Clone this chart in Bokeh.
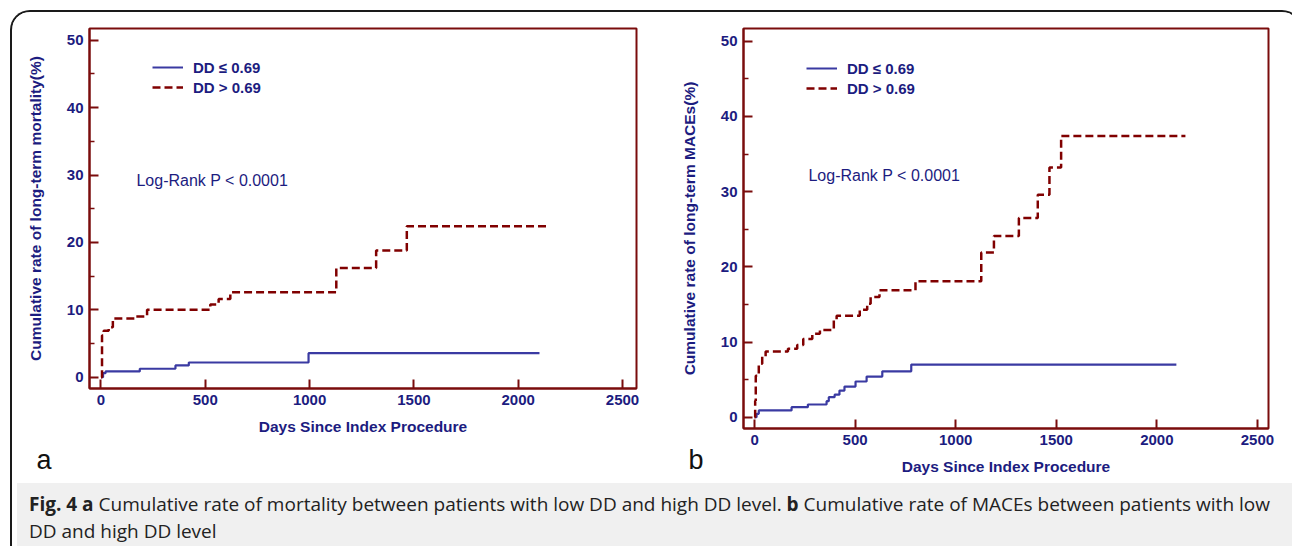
from bokeh.plotting import figure
from bokeh.layouts import column, row
from bokeh.models import Div, Label, Legend, LegendItem, FixedTicker, Range1d
from bokeh.embed import file_html
from bokeh.resources import INLINE

# ---------------- data ----------------
# Panel a: cumulative rate of long-term mortality (%)
days_low_a = [0, 10, 22, 186, 357, 421, 995, 2102]
rate_low_a = [0, 0.6, 0.85, 1.25, 1.74, 2.18, 3.56, 3.56]
days_high_a = [0, 5, 13, 37, 57, 165, 221, 524, 564, 620, 1128, 1319, 1466, 2145]
rate_high_a = [0, 6.2, 6.9, 7.4, 8.7, 9.0, 10.0, 10.8, 11.6, 12.6, 16.2, 18.8, 22.4, 22.4]

# Panel b: cumulative rate of long-term MACEs (%)
days_low_b = [0, 10, 21, 184, 265, 358, 369, 398, 422, 447, 502, 557, 635, 779, 2097]
rate_low_b = [0, 0.45, 0.9, 1.33, 1.69, 2.13, 2.66, 3.0, 3.55, 4.08, 4.75, 5.4, 6.1, 7.0, 7.0]
days_high_b = [0, 3, 6, 21, 38, 55, 166, 212, 242, 287, 325, 394, 408, 523, 560, 577, 621,
               800, 1127, 1190, 1314, 1408, 1466, 1524, 2142]
rate_high_b = [0, 2.2, 5.5, 7.1, 8.07, 8.74, 9.1, 9.6, 10.4, 11.1, 11.6, 12.9, 13.5, 14.3, 15.1,
               16.0, 16.9, 18.1, 21.9, 24.1, 26.5, 29.6, 33.2, 37.4, 37.4]

x_ticks = [0, 500, 1000, 1500, 2000, 2500]
y_ticks = [0, 10, 20, 30, 40, 50]
y_minor = [5, 15, 25, 35, 45]

legend_labels = ["DD \u2264 0.69", "DD > 0.69"]
logrank_text = "Log-Rank P < 0.0001"
xlabel = "Days Since Index Procedure"
ylabel_a = "Cumulative rate of long-term mortality(%)"
ylabel_b = "Cumulative rate of long-term MACEs(%)"
panel_letters = ["a", "b"]

NAVY = "#1c1c80"
DARKRED = "#7a0c0c"
BLUE = "#3a3aa2"
RED = "#800000"
FONT = "Liberation Sans"


def make_panel(width, height, mbl, mbr, mbt, mbb, xr, yr, ylabel,
               t_lo, r_lo, t_hi, r_hi, legend_loc, logrank_xy, logrank_size):
    p = figure(width=width, height=height, output_backend="svg", toolbar_location=None,
               x_range=Range1d(*xr), y_range=Range1d(*yr),
               min_border_left=mbl, min_border_right=mbr,
               min_border_top=mbt, min_border_bottom=mbb)
    p.frame_align = False
    p.xgrid.visible = False
    p.ygrid.visible = False
    p.outline_line_color = DARKRED
    p.outline_line_width = 2
    p.outline_line_alpha = 1
    p.background_fill_color = "white"
    p.border_fill_color = "white"

    p.xaxis.ticker = FixedTicker(ticks=x_ticks, minor_ticks=[])
    p.yaxis.ticker = FixedTicker(ticks=y_ticks, minor_ticks=y_minor)
    for ax in (p.xaxis, p.yaxis):
        ax.axis_line_color = DARKRED
        ax.axis_line_width = 2
        ax.major_tick_line_color = DARKRED
        ax.major_tick_line_width = 2
        ax.minor_tick_line_color = DARKRED
        ax.minor_tick_line_width = 1.5
        ax.major_tick_in = 9
        ax.major_tick_out = 0
        ax.minor_tick_in = 5
        ax.minor_tick_out = 0
        ax.major_label_text_font = FONT
        ax.major_label_text_font_style = "bold"
        ax.major_label_text_font_size = "15px"
        ax.major_label_text_color = NAVY
        ax.axis_label_text_font = FONT
        ax.axis_label_text_font_style = "bold"
        ax.axis_label_text_font_size = "15.5px"
        ax.axis_label_text_color = NAVY
    p.xaxis.axis_label = xlabel
    p.yaxis.axis_label = ylabel
    p.xaxis.major_label_standoff = 6
    p.yaxis.major_label_standoff = 6
    p.xaxis.axis_label_standoff = 10
    p.yaxis.axis_label_standoff = 20

    r1 = p.step(t_lo, r_lo, mode="after", line_color=BLUE, line_width=2.2)
    r2 = p.step(t_hi, r_hi, mode="after", line_color=RED, line_width=2.5, line_dash="8 4")

    leg = Legend(items=[LegendItem(label=legend_labels[0], renderers=[r1]),
                        LegendItem(label=legend_labels[1], renderers=[r2])],
                 location=legend_loc, orientation="vertical", padding=0, margin=0, spacing=0,
                 glyph_width=31, glyph_height=20, label_height=20, label_standoff=10,
                 border_line_alpha=0, background_fill_alpha=0,
                 label_text_font=FONT, label_text_font_style="bold",
                 label_text_font_size="15px", label_text_color=NAVY)
    p.add_layout(leg)

    p.add_layout(Label(x=logrank_xy[0], y=logrank_xy[1], text=logrank_text,
                       text_font=FONT, text_font_size=logrank_size, text_color=NAVY,
                       text_baseline="middle", text_align="left"))
    return p


FIG_H = 466
pa = make_panel(648, FIG_H, 77, 24, 16, FIG_H - 16 - 360, (-55, 2567), (-1.68, 51.74), ylabel_a,
                days_low_a, rate_low_a, days_high_a, rate_high_a,
                (63, 291), (170, 29.2), "16px")
pb = make_panel(630, FIG_H, 83, 22, 16, FIG_H - 16 - 400, (-55, 2555), (-1.5, 51.7), ylabel_b,
                days_low_b, rate_low_b, days_high_b, rate_high_b,
                (63, 330), (268, 32.1), "16px")


def letter_div(txt, left, top):
    return Div(text=txt, width=30, height=32,
               styles={"position": "absolute", "left": f"{left}px", "top": f"{top}px",
                       "font-family": FONT, "font-size": "27px", "color": "#111",
                       "text-align": "center", "line-height": "32px", "z-index": "5"})


letter_a = letter_div(panel_letters[0], 39 - 12 - 15, 455 - 12 - 16)
letter_b = letter_div(panel_letters[1], 691 - 12 - 15, 455 - 12 - 16)

caption_html = (
    '<div style="padding:8px 12px 0 12px; line-height:27px; font-family:\'Open Sans\'; '
    'font-size:19px; color:#222; white-space:nowrap;">'
    '<div><b>Fig. 4 a</b> <span>Cumulative rate of mortality between patients with low DD and high DD level.</span> '
    '<b>b</b> <span>Cumulative rate of MACEs between patients with low</span></div>'
    '<div><span>DD and high DD level</span></div></div>'
)
caption = Div(text=caption_html, width=1278, height=68,
              styles={"background-color": "#f0f0f0"})

layout = column(row(pa, pb, spacing=0), caption, letter_a, letter_b, spacing=0,
                margin=(10, 0, 0, 10),
                styles={"position": "relative",
                        "border-top": "2px solid #1a1a1a", "border-left": "2px solid #1a1a1a",
                        "border-right": "2px solid #1a1a1a",
                        "border-top-left-radius": "20px", "border-top-right-radius": "20px",
                        "overflow": "hidden", "background-color": "white"})

open("out.html", "w").write(file_html(layout, INLINE))
